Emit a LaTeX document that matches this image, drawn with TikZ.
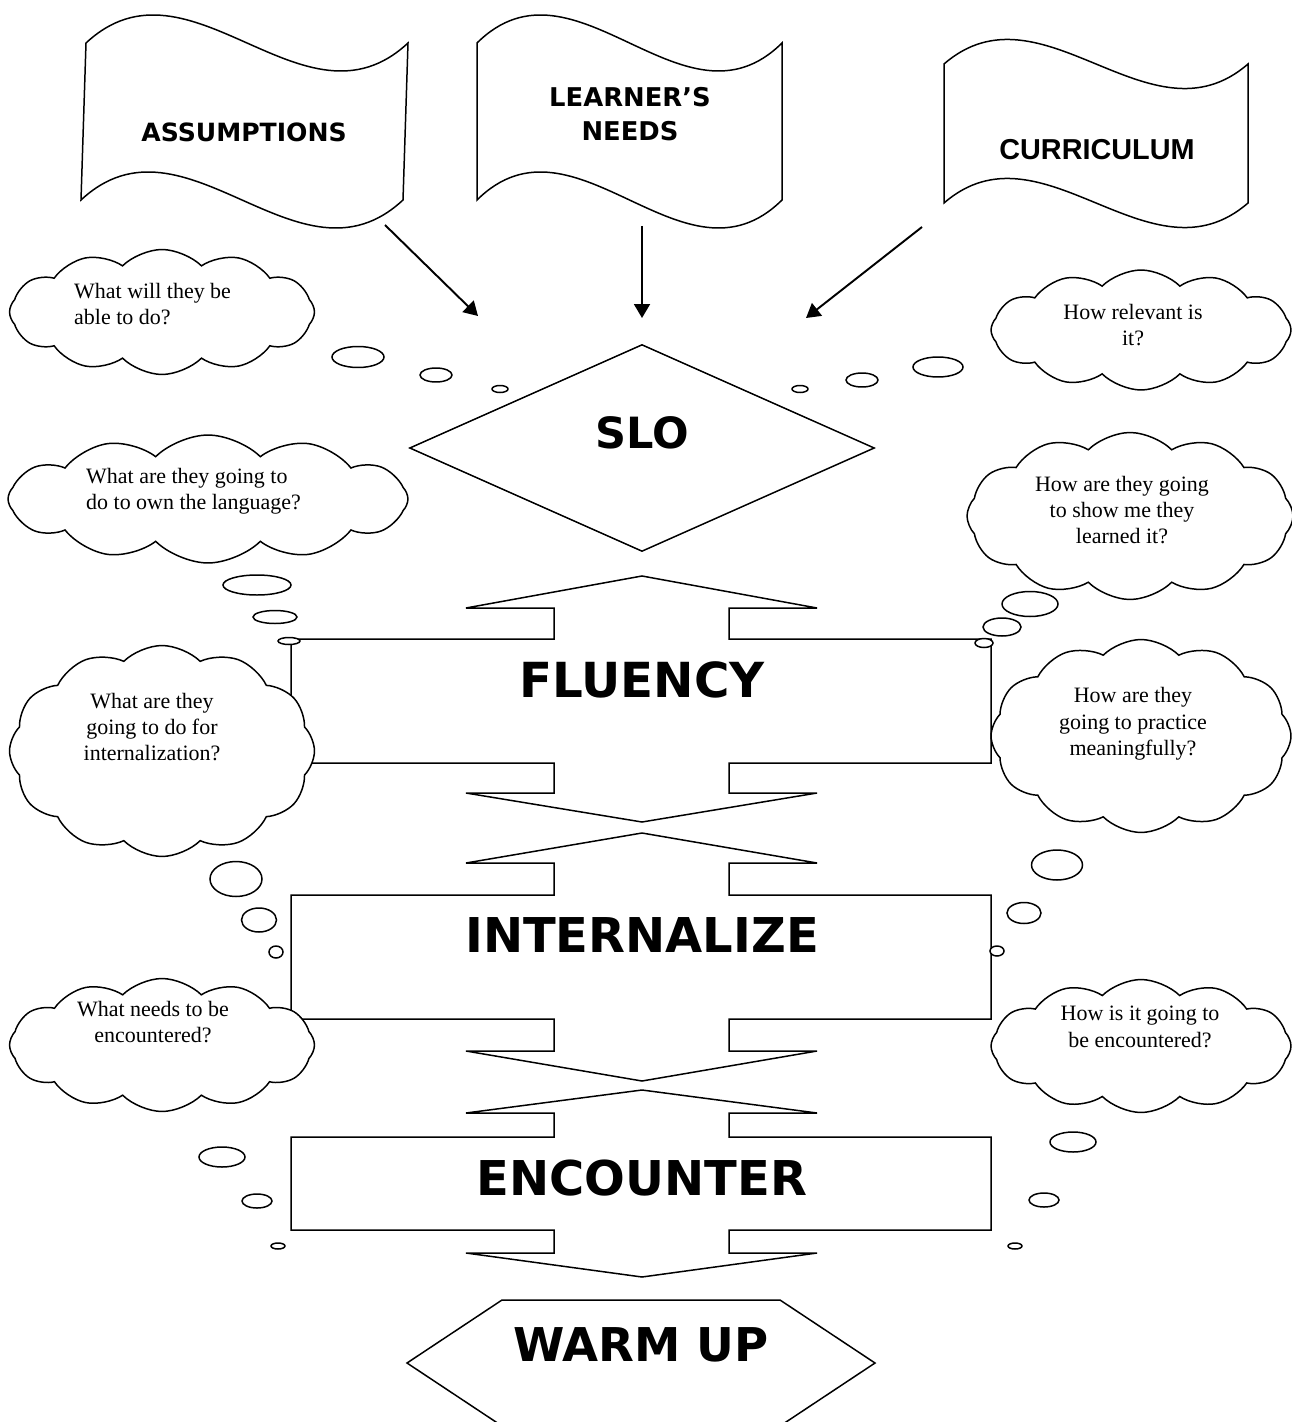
\documentclass[tikz,border=0pt]{standalone}
\usepackage{fontspec}
\setmainfont{Liberation Serif}
\newfontfamily\heavysans{DejaVu Sans}
\newfontfamily\arialsans{Liberation Sans}
\usetikzlibrary{arrows.meta,positioning,shapes.geometric,shapes.symbols}

\begin{document}
\begin{tikzpicture}[
    x=0.02cm, y=-0.02cm,
    outline/.style={draw, line width=0.85pt, line join=miter},
    flagtext/.style={font=\heavysans\bfseries\fontsize{#1}{19.3}\selectfont, align=center},
    flagtext/.default=13,
    stagetext/.style={font=\heavysans\bfseries\fontsize{#1}{30}\selectfont},
    stagetext/.default=27.3,
    thinkbox/.style={cloud, cloud puffs=12, cloud puff arc=90, cloud ignores aspect,
                     draw, fill=white, line width=0.85pt, inner sep=0pt},
    thought/.style={font=\fontsize{12.5}{15}\selectfont, align=center},
    pointer/.style={-{Triangle[length=2.8mm, width=3.2mm]}, line width=1.1pt},
]
    \path[use as bounding box, fill=white] (0,0) rectangle (1291,1422);

    % Flags
    \draw[outline] (86,43) .. controls (190,-54) and (304,140) .. (408,43) -- (403,200)
        .. controls (299,297) and (185,103) .. (81,200) -- cycle;
    \node[flagtext=14.3] (assume) at (244,132) {ASSUMPTIONS};

    \draw[outline] (477,43) .. controls (575,-54) and (684,140) .. (782,43) -- (782,200)
        .. controls (684,297) and (575,103) .. (477,200) -- cycle;
    \node[flagtext=14.7] (needs) at (630,114) {LEARNER’S\\NEEDS};

    \draw[outline] (944,64) .. controls (1042,-21) and (1150,149) .. (1248,64) -- (1248,203)
        .. controls (1150,288) and (1042,118) .. (944,203) -- cycle;
    \node[flagtext, font=\arialsans\bfseries\fontsize{16.4}{19}\selectfont] (curric) at (1097,150) {CURRICULUM};

    % Arrows into the SLO
    \coordinate (assume-out) at (385,225);
    \coordinate (assume-in) at (478,316);
    \coordinate (needs-out) at (642,226);
    \coordinate (needs-in) at (642,318);
    \coordinate (curric-out) at (922,227);
    \coordinate (curric-in) at (806,318);
    \draw[pointer] (assume-out) -- (assume-in);
    \draw[pointer] (needs-out) -- (needs-in);
    \draw[pointer] (curric-out) -- (curric-in);

    % SLO
    \node[diamond, outline, minimum width=9.3cm, minimum height=4.14cm, inner sep=0pt] (slo-box) at (642,448) {};
    \node[stagetext=24.5] (slo) at (642,433) {SLO};

    % Stages
    \foreach \ta/\ha/\ba/\bb/\hb/\tb in {576/608/639/763/793/822, 833/863/895/1019/1051/1081,
                                         1090/1113/1137/1230/1253/1277}
        \draw[outline] (642,\ta) -- (817,\ha) -- (729,\ha) -- (729,\ba) -- (991,\ba) -- (991,\bb)
            -- (729,\bb) -- (729,\hb) -- (817,\hb) -- (642,\tb) -- (466,\hb) -- (554,\hb)
            -- (554,\bb) -- (291,\bb) -- (291,\ba) -- (554,\ba) -- (554,\ha) -- (466,\ha) -- cycle;
    \node[stagetext=27.5] (fluency) at (642,680) {FLUENCY};
    \node[stagetext] (internalize) at (642,935) {INTERNALIZE};
    \node[stagetext] (encounter) at (642,1178) {ENCOUNTER};

    % Warm up
    \draw[outline] (502,1300) -- (780,1300) -- (875,1363) -- (780,1426) -- (502,1426) -- (407,1363) -- cycle;
    \node[stagetext=26.5] (warmup) at (641,1345) {WARM UP};

    % Thought clouds
    \node[thinkbox, minimum width=6.1cm, minimum height=2.5cm] (cl-able) at (162,312) {};
    \node[thought, align=left, anchor=west] at (68,304) {What will they be\\able to do?};

    \node[thinkbox, minimum width=6.0cm, minimum height=2.4cm] (cl-relevant) at (1141,330) {};
    \node[thought] at (1133,325) {How relevant is\\it?};

    \node[thinkbox, minimum width=8.0cm, minimum height=2.56cm] (cl-own) at (208,499) {};
    \node[thought, align=left, anchor=west] at (80,491) {What are they going to\\do to own the language?};

    \node[thinkbox, minimum width=6.52cm, minimum height=3.34cm] (cl-show) at (1130,516) {};
    \node[thought] at (1122,510) {How are they going\\to show me they\\learned it?};

    \node[thinkbox, minimum width=6.1cm, minimum height=4.22cm] (cl-intern) at (162,751) {};
    \node[thought] at (152,727) {What are they\\going to do for\\internalization?};

    \node[thinkbox, minimum width=6.0cm, minimum height=3.86cm] (cl-practice) at (1141,736) {};
    \node[thought] at (1133,724) {How are they\\going to practice\\meaningfully?};

    \node[thinkbox, minimum width=6.1cm, minimum height=2.66cm] (cl-needs) at (162,1045) {};
    \node[thought] at (153,1022) {What needs to be\\encountered?};

    \node[thinkbox, minimum width=6.0cm, minimum height=2.66cm] (cl-how) at (1141,1046) {};
    \node[thought] at (1140,1027) {How is it going to\\be encountered?};

    % Thought bubbles
    \foreach \cx/\cy/\rx/\ry in {358/357/26/10.5, 436/375/16/7, 500/389/8/3.5,
                                 800/389/8/3.5, 862/380/16/7, 938/367/25/10,
                                 257/585/34/10, 275/617/22/6.5, 289/641/11/3.5,
                                 1030/604/28/12.5, 1002/627/19/9, 984/643/9/4.5,
                                 236/879/26/17.5, 259/920/17.5/12, 276/952/7/6,
                                 1057/865/25.5/15, 1024/913/17/10.5, 997/951/7/5,
                                 222/1157/23/10, 257/1201/15/7, 278/1246/7/3,
                                 1073/1142/23/10, 1044/1200/15/7, 1015/1246/7/3}
        \draw[outline, fill=white] (\cx,\cy) ellipse ({\rx} and {\ry});
\end{tikzpicture}
\end{document}
